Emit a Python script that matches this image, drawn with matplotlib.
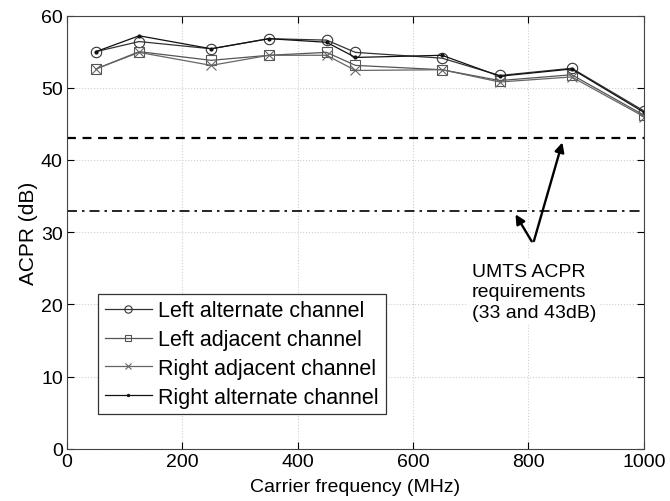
import matplotlib
matplotlib.use("Agg")
import matplotlib.pyplot as plt

plt.rcParams['font.family'] = ['Liberation Sans', 'DejaVu Sans']

freq = [50, 125, 250, 350, 450, 500, 650, 750, 875, 1000]
left_alt = [55.0, 56.4, 55.4, 56.8, 56.6, 54.9, 54.1, 51.7, 52.7, 46.8]
left_adj = [52.6, 55.0, 53.8, 54.5, 54.9, 53.1, 52.5, 51.0, 51.8, 46.2]
right_adj = [52.6, 54.9, 53.1, 54.5, 54.5, 52.4, 52.5, 50.8, 51.5, 46.0]
right_alt = [55.0, 57.2, 55.4, 56.8, 56.3, 54.2, 54.5, 51.6, 52.6, 46.6]
req_levels = [43, 33]

fig = plt.figure(figsize=(6.7, 5.02), dpi=100)
ax = fig.add_axes([0.1, 0.104, 0.861, 0.863])

ax.plot(freq, left_alt, color='#333333', lw=0.9, marker='o', ms=7.5, mfc='none', mec='#333333', mew=0.8, label='Left alternate channel')
ax.plot(freq, left_adj, color='#555555', lw=0.9, marker='s', ms=7, mfc='none', mec='#555555', mew=0.8, label='Left adjacent channel')
ax.plot(freq, right_adj, color='#666666', lw=0.9, marker='x', ms=7, mec='#666666', mew=0.8, label='Right adjacent channel')
ax.plot(freq, right_alt, color='#111111', lw=0.9, marker='.', ms=4, label='Right alternate channel')

ax.axhline(req_levels[0], color='black', lw=1.6, ls=(0, (4, 3)))
ax.axhline(req_levels[1], color='black', lw=1.2, ls=(0, (6, 3, 1.5, 3)))

ax.annotate('', xy=(860, 42.8), xytext=(808, 28.4),
            arrowprops=dict(arrowstyle='-|>', color='black', lw=1.7, mutation_scale=14))
ax.annotate('', xy=(775, 32.8), xytext=(808, 28.4),
            arrowprops=dict(arrowstyle='-|>', color='black', lw=1.7, mutation_scale=14))
ax.text(702, 25.8, 'UMTS ACPR\nrequirements\n(33 and 43dB)', fontsize=14, va='top', ha='left',
        linespacing=1.3, bbox=dict(facecolor='white', edgecolor='none', pad=3))

ax.set_xlim(0, 1000)
ax.set_ylim(0, 60)
ax.set_xticks(range(0, 1001, 200))
ax.set_yticks(range(0, 61, 10))
ax.grid(True, color='#d0d0d0', ls=':', lw=0.8)
ax.tick_params(labelsize=14, direction='in', length=5, top=True, right=True, pad=3)
ax.set_xlabel('Carrier frequency (MHz)', fontsize=14, labelpad=6)
ax.set_ylabel('ACPR (dB)', fontsize=15, labelpad=2)
for s in ax.spines.values():
    s.set_color('#444444')
    s.set_linewidth(0.8)

leg = ax.legend(loc='lower left', bbox_to_anchor=(0.054, 0.08), fontsize=15.5, frameon=True,
                fancybox=False, edgecolor='#333333', framealpha=1, borderpad=0.3,
                handlelength=2.2, handletextpad=0.3, labelspacing=0.36, markerscale=0.7,
                borderaxespad=0)
leg.get_frame().set_linewidth(0.9)

fig.savefig('out.png', dpi=100, facecolor='white')
